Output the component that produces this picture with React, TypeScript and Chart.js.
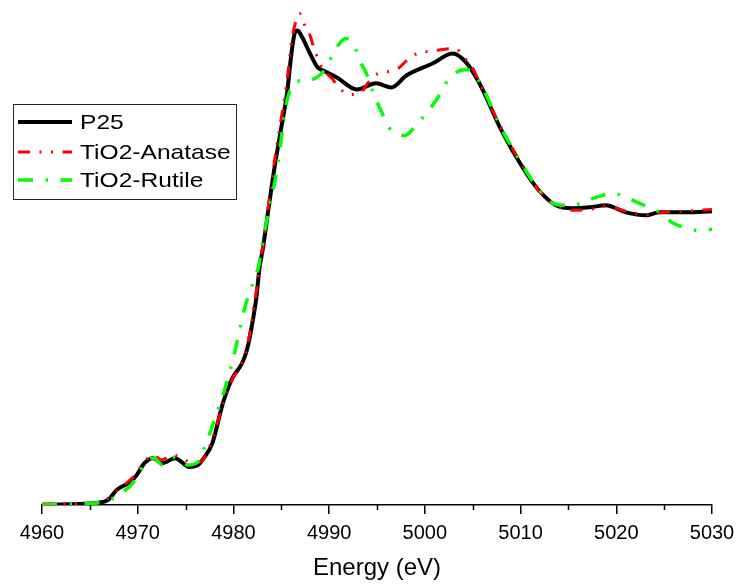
import React, { useEffect, useRef } from "react";
import { Chart, registerables } from "chart.js";

Chart.register(...registerables);

// Energy (eV), normalized absorption
const p25: [number, number][] = [
  [4960, 0], [4962, 0.002], [4964, 0.003], [4965, 0.005], [4965.7, 0.007], [4966.9, 0.017],
  [4967.8, 0.051], [4969.2, 0.078], [4969.9, 0.102], [4970.7, 0.142], [4971.6, 0.159],
  [4972.6, 0.142], [4973.9, 0.159], [4975.4, 0.129], [4976.3, 0.136], [4977.0, 0.163],
  [4977.8, 0.21], [4978.9, 0.346], [4979.9, 0.431], [4980.9, 0.481], [4981.4, 0.525],
  [4981.9, 0.603], [4982.4, 0.705], [4982.7, 0.797], [4983.1, 0.875], [4983.6, 0.99],
  [4984.3, 1.146], [4985.0, 1.281], [4985.6, 1.397], [4986.1, 1.542], [4986.4, 1.6],
  [4986.7, 1.61], [4987.2, 1.586], [4988.0, 1.532], [4988.8, 1.485], [4989.3, 1.475],
  [4990.8, 1.451], [4992.9, 1.41], [4994.9, 1.431], [4996.5, 1.417], [4998.1, 1.458],
  [5000.8, 1.498], [5002.9, 1.532], [5004.3, 1.502], [5005.7, 1.431], [5008.0, 1.271],
  [5010.2, 1.146], [5011.9, 1.068], [5013.7, 1.017], [5015.4, 1.007], [5017.2, 1.01],
  [5018.9, 1.017], [5021.0, 0.993], [5023.1, 0.983], [5024.5, 0.993], [5027.3, 0.993],
  [5030, 0.997],
];

const anatase: [number, number][] = [
  [4960, 0.003], [4965, 0.005], [4966.5, 0.014], [4968, 0.054], [4969.5, 0.094],
  [4970.5, 0.136], [4971.5, 0.169], [4972.5, 0.153], [4973.6, 0.169], [4974.5, 0.163],
  [4975.3, 0.148], [4976.5, 0.146], [4977.5, 0.197], [4978.9, 0.339], [4979.9, 0.427],
  [4980.9, 0.481], [4981.4, 0.532], [4981.9, 0.62], [4982.4, 0.729], [4982.9, 0.837],
  [4983.6, 1.0], [4984.3, 1.169], [4985.0, 1.312], [4985.6, 1.441], [4986.1, 1.576],
  [4986.6, 1.651], [4986.9, 1.668], [4987.3, 1.637], [4988.0, 1.593], [4988.5, 1.542],
  [4989.3, 1.481], [4990.3, 1.447], [4991.1, 1.414], [4992.2, 1.393], [4993.2, 1.397],
  [4994.1, 1.434], [4995.1, 1.464], [4996.2, 1.471], [4997.2, 1.481], [4998.1, 1.508],
  [4999.5, 1.536], [5000.5, 1.539], [5001.9, 1.546], [5003.2, 1.549], [5004.0, 1.522],
  [5004.9, 1.488], [5005.7, 1.434], [5008.0, 1.278], [5010.2, 1.153], [5011.9, 1.068],
  [5013.7, 1.017], [5015.4, 1.0], [5017.2, 1.003], [5018.9, 1.014], [5021.0, 0.997],
  [5023.0, 0.986], [5025.0, 0.993], [5027.3, 0.997], [5030, 1.003],
];

const rutile: [number, number][] = [
  [4960, 0], [4963, 0.003], [4965.7, 0.007], [4966.9, 0.014], [4967.5, 0.024],
  [4968.3, 0.041], [4969.3, 0.068], [4970.0, 0.098], [4970.8, 0.146], [4971.7, 0.159],
  [4972.6, 0.136], [4973.9, 0.163], [4975.2, 0.136], [4976.3, 0.146], [4977.0, 0.197],
  [4977.9, 0.278], [4978.9, 0.373], [4979.6, 0.451], [4980.3, 0.542], [4981.2, 0.671],
  [4981.9, 0.739], [4982.7, 0.82], [4983.0, 0.881], [4983.8, 1.017], [4984.6, 1.146],
  [4985.4, 1.339], [4985.9, 1.407], [4986.4, 1.434], [4987.5, 1.441], [4988.5, 1.447],
  [4989.5, 1.475], [4990.8, 1.553], [4991.7, 1.583], [4992.7, 1.553], [4993.2, 1.508],
  [4993.9, 1.464], [4994.8, 1.383], [4995.5, 1.332], [4996.0, 1.295], [4996.6, 1.268],
  [4997.9, 1.254], [4998.9, 1.281], [4999.8, 1.315], [5000.8, 1.356], [5001.5, 1.39],
  [5002.2, 1.431], [5003.3, 1.468], [5004.4, 1.478], [5005.4, 1.451], [5005.9, 1.424],
  [5008.0, 1.278], [5010.2, 1.153], [5011.9, 1.071], [5013.7, 1.02], [5015.4, 1.017],
  [5017.0, 1.034], [5018.2, 1.047], [5019.6, 1.058], [5021.0, 1.044], [5022.2, 1.027],
  [5023.4, 1.01], [5024.7, 0.99], [5025.8, 0.959], [5027.1, 0.942], [5028.6, 0.932],
  [5030, 0.936],
];

const seriesLabels = ["P25", "TiO2-Anatase", "TiO2-Rutile"];
const xMin = 4960;
const xMax = 5030;
const xMajorStep = 10;

const FONT = "'Liberation Sans', Arial, Helvetica, sans-serif";

const minorTicksPlugin = {
  id: "minorTicks",
  afterDraw(chart: any) {
    const scale = chart.scales.x;
    const ctx = chart.ctx;
    const y0 = chart.chartArea.bottom;
    ctx.save();
    ctx.strokeStyle = "#000";
    ctx.lineWidth = 1.5;
    for (let v = xMin + xMajorStep / 2; v < xMax; v += xMajorStep) {
      const x = Math.round(scale.getPixelForValue(v)) + 0.5;
      ctx.beginPath();
      ctx.moveTo(x, y0);
      ctx.lineTo(x, y0 + 5);
      ctx.stroke();
    }
    ctx.restore();
  },
};

const boxLegendPlugin = {
  id: "boxLegend",
  afterDraw(chart: any) {
    const ctx = chart.ctx;
    const rows = [122, 152, 180];
    ctx.save();
    ctx.fillStyle = "#fff";
    ctx.fillRect(13.5, 104.5, 223, 95);
    ctx.strokeStyle = "#222";
    ctx.lineWidth = 1;
    ctx.strokeRect(13.5, 104.5, 223, 95);
    chart.data.datasets.forEach((ds: any, i: number) => {
      const y = rows[i];
      ctx.save();
      ctx.setLineDash(ds.borderDash || []);
      ctx.lineCap = "butt";
      ctx.strokeStyle = ds.borderColor;
      ctx.lineWidth = ds.borderWidth;
      ctx.beginPath();
      ctx.moveTo(18, y);
      ctx.lineTo(72, y);
      ctx.stroke();
      ctx.restore();
      ctx.save();
      ctx.translate(80, y + 1);
      ctx.scale(1.17, 1);
      ctx.fillStyle = "#000";
      ctx.font = `21px ${FONT}`;
      ctx.textBaseline = "middle";
      ctx.textAlign = "left";
      ctx.fillText(ds.label, 0, 0);
      ctx.restore();
    });
    ctx.restore();
  },
};

export default function App() {
  const canvasRef = useRef<HTMLCanvasElement | null>(null);

  useEffect(() => {
    if (!canvasRef.current) return;
    const toPts = (arr: [number, number][]) => arr.map(([x, y]) => ({ x, y }));
    const chart = new Chart(canvasRef.current, {
      type: "line",
      data: {
        datasets: [
          {
            label: seriesLabels[0],
            data: toPts(p25),
            borderColor: "#000000",
            borderWidth: 4,
            pointRadius: 0,
            cubicInterpolationMode: "monotone",
            order: 3,
          },
          {
            label: seriesLabels[1],
            data: toPts(anatase),
            borderColor: "#ff0000",
            borderWidth: 3,
            borderDash: [12, 9.5, 2, 9.5, 2, 9.5],
            pointRadius: 0,
            cubicInterpolationMode: "monotone",
            order: 2,
          },
          {
            label: seriesLabels[2],
            data: toPts(rutile),
            borderColor: "#00ff00",
            borderWidth: 3.5,
            borderDash: [15, 12.5, 2.5, 12.5],
            pointRadius: 0,
            cubicInterpolationMode: "monotone",
            order: 1,
          },
        ],
      },
      options: {
        animation: false,
        responsive: false,
        layout: { padding: { left: 42, right: 30, top: 4, bottom: 0 } },
        plugins: {
          legend: { display: false },
          tooltip: { enabled: false },
        },
        scales: {
          x: {
            type: "linear",
            min: xMin,
            max: xMax,
            afterFit(scale: any) {
              scale.height = 79;
            },
            border: { display: true, color: "#000", width: 1.5 },
            grid: {
              display: true,
              drawOnChartArea: false,
              drawTicks: true,
              tickLength: 9,
              color: "#000",
              lineWidth: 1.5,
            },
            ticks: {
              stepSize: xMajorStep,
              color: "#000",
              padding: 7,
              font: { family: FONT, size: 20 },
              maxRotation: 0,
              callback: (v: any) => String(v),
            },
            title: {
              display: true,
              text: "Energy (eV)",
              color: "#000",
              font: { family: FONT, size: 24 },
              padding: { top: 4, bottom: 1 },
            },
          },
          y: {
            type: "linear",
            display: false,
            min: 0,
            max: 1.7,
          },
        },
      },
      plugins: [minorTicksPlugin, boxLegendPlugin],
    } as any);
    return () => chart.destroy();
  }, []);

  return (
    <div style={{ position: "fixed", left: 0, top: 0, width: 742, height: 584, background: "#fff" }}>
      <canvas ref={canvasRef} width={742} height={584} style={{ display: "block" }} />
    </div>
  );
}
